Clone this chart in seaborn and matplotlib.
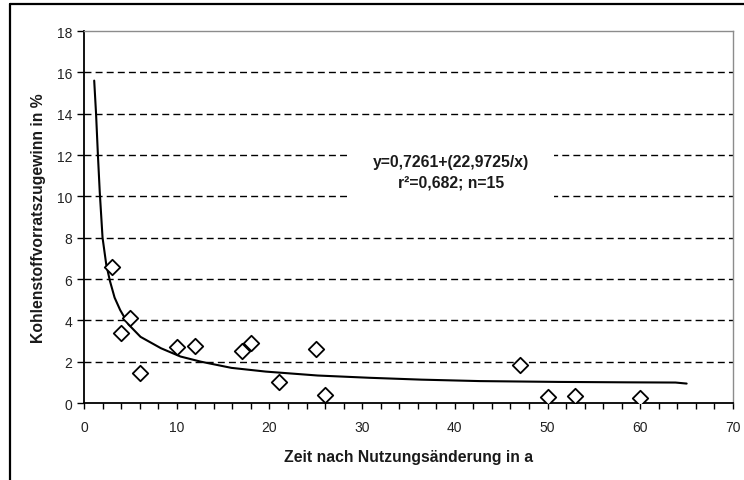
import pandas as pd
import matplotlib.pyplot as plt
import seaborn as sns
from matplotlib.lines import Line2D
from matplotlib.ticker import MultipleLocator

#Messwerte: Zeit nach Nutzungsaenderung (a) und Kohlenstoffvorratszugewinn (%)
zeit = [3, 4, 5, 6, 10, 12, 17, 18, 21, 25, 26, 47, 50, 53, 60]
gewinn = [6.6, 3.4, 4.1, 1.45, 2.73, 2.75, 2.52, 2.9, 1.0, 2.6, 0.4, 1.85, 0.27, 0.36, 0.22]

#Trendlinie, Punkte
kurve_x = [1.1, 1.3, 1.5, 1.7, 2.0, 2.4, 2.8, 3.3, 3.9, 4.8, 6.1, 8.3, 10.4, 12.6, 15.9,
           19.6, 25.2, 30.8, 36.4, 42.7, 51.2, 58.6, 63.8, 65.0]
kurve_y = [15.6, 14.0, 12.0, 10.2, 8.0, 6.7, 5.9, 5.1, 4.5, 3.8, 3.2, 2.65, 2.25, 2.0, 1.7,
           1.52, 1.33, 1.22, 1.13, 1.06, 1.02, 1.0, 0.99, 0.94]

gleichung = 'y=0,7261+(22,9725/x)\nr\u00b2=0,682; n=15'

df = pd.DataFrame({'zeit': zeit, 'gewinn': gewinn})
fit = pd.DataFrame({'zeit': kurve_x, 'gewinn': kurve_y})

sns.set_style('white')
plt.rcParams['font.family'] = ['Liberation Sans', 'DejaVu Sans']

fig = plt.figure(figsize=(7.44, 4.81), dpi=100)
ax = fig.add_axes([84/744, 1 - 404/481, (733-84)/744, (404-32)/481])

#gestrichelte Gitterlinien
for yv in range(2, 18, 2):
    ax.axhline(yv, color='black', linestyle=(0, (5, 3)), linewidth=1, zorder=1)

sns.lineplot(data=fit, x='zeit', y='gewinn', ax=ax, color='black', linewidth=1.5,
             sort=False, zorder=3)
sns.scatterplot(data=df, x='zeit', y='gewinn', ax=ax, marker='D', s=62,
                facecolor='white', edgecolor='black', linewidth=1.3, zorder=4)

ax.text(39.6, 11.2, gleichung, ha='center', va='center', multialignment='center',
        fontsize=11.3, fontweight='bold', linespacing=1.45, color='#1a1a1a', zorder=5,
        bbox=dict(facecolor='white', edgecolor='none', boxstyle='square,pad=1.55'))

ax.set_xlim(0, 70)
ax.set_ylim(0, 18)
ax.xaxis.set_major_locator(MultipleLocator(10))
ax.xaxis.set_minor_locator(MultipleLocator(2))
ax.yaxis.set_major_locator(MultipleLocator(2))
ax.tick_params(axis='x', which='both', direction='out', length=4.3, width=1, color='black',
               bottom=True, labelsize=10, labelcolor='#222222', pad=8)
ax.tick_params(axis='y', which='major', direction='out', length=5, width=1, color='black',
               left=True, labelsize=10, labelcolor='#222222', pad=3.5)

ax.set_xlabel('Zeit nach Nutzungsänderung in a', fontsize=11.3, fontweight='bold',
              color='#1a1a1a', labelpad=11)
ax.set_ylabel('Kohlenstoffvorratszugewinn in %', fontsize=11.3, fontweight='bold',
              color='#1a1a1a', labelpad=8)

for side in ['left', 'bottom']:
    ax.spines[side].set_color('black')
    ax.spines[side].set_linewidth(1.3)
for side in ['top', 'right']:
    ax.spines[side].set_color('#8c8c8c')
    ax.spines[side].set_linewidth(1)

#aeusserer Rahmen (oben und links)
fig.add_artist(Line2D([10/744, 1], [1 - 5/481, 1 - 5/481], transform=fig.transFigure,
                      color='black', linewidth=1.6))
fig.add_artist(Line2D([10/744, 10/744], [0, 1 - 5/481], transform=fig.transFigure,
                      color='black', linewidth=1.6))

plt.savefig('out.png', dpi=100)
